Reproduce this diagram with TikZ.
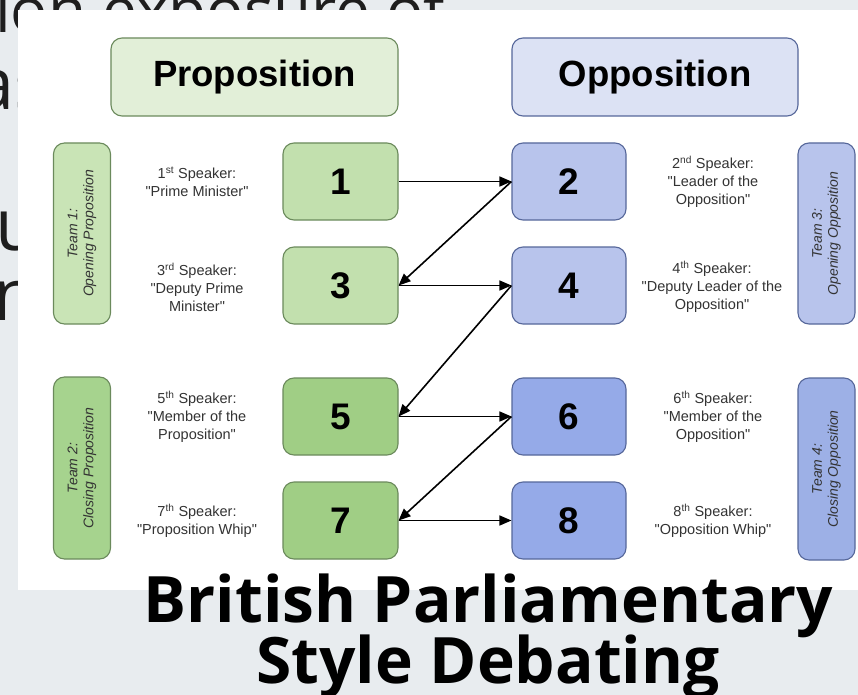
\documentclass[tikz,border=0pt]{standalone}
\usepackage{fontspec}
\setmainfont{Liberation Sans}[Ligatures=TeXOff]
\newfontfamily\osans{Open Sans}
\usetikzlibrary{arrows.meta}
\definecolor{bg}{HTML}{E8ECEF}
\definecolor{hdrG}{HTML}{E2EFD8}
\definecolor{hdrB}{HTML}{DCE2F4}
\definecolor{numGa}{HTML}{C2E0AE}
\definecolor{numGb}{HTML}{A0CE85}
\definecolor{numBa}{HTML}{B8C4EC}
\definecolor{numBb}{HTML}{95AAE8}
\definecolor{teamGa}{HTML}{C9E4B6}
\definecolor{teamGb}{HTML}{A6D38E}
\definecolor{teamBa}{HTML}{B8C4EC}
\definecolor{teamBb}{HTML}{9DB0E6}
\definecolor{bordG}{HTML}{6B8A5C}
\definecolor{bordB}{HTML}{56679A}
\definecolor{txtgrey}{HTML}{333333}
\definecolor{bgtext}{HTML}{1E1E1E}
\tikzset{
  rbox/.style={rounded corners=11bp, line width=1.1bp, inner sep=0pt},
  hdr/.style={rbox, minimum width=287bp, minimum height=78bp, font=\fontsize{36.5bp}{40bp}\selectfont\bfseries},
  numbox/.style={rbox, minimum width=115bp, minimum height=77bp, font=\fontsize{37bp}{40bp}\selectfont\bfseries},
  teambox/.style={rbox, minimum width=57bp, minimum height=181bp},
  teamtxt/.style={rotate=90, align=center, text=txtgrey, font=\fontsize{14bp}{16bp}\selectfont\itshape},
  spk/.style={align=center, text=txtgrey, font=\fontsize{14.5bp}{18bp}\selectfont},
  arr/.style={line width=1.6bp, -{Triangle[length=12bp,width=10bp]}},
  bgtxt/.style={anchor=base west, inner sep=0pt, text=bgtext, font=\osans\fontsize{72bp}{76bp}\selectfont},
  ttl/.style={anchor=base, inner sep=0pt, font=\osans\bfseries\fontsize{64bp}{70bp}\selectfont}
}
\begin{document}
\begin{tikzpicture}[x=1bp,y=-1bp]
\useasboundingbox (0,0) rectangle (858,695);
\clip (0,0) rectangle (858,695);
\fill[bg] (0,0) rectangle (858,695);
% background slide text (mostly hidden)
\node[bgtxt, font=\osans\fontsize{62bp}{70bp}\selectfont] (bt1) at (-5,33) {ion exposure of};
\node[bgtxt] (bt2) at (-26,110) {as};
\node[bgtxt] (bt4) at (-5,250) {u};
\node[bgtxt] (bt5) at (-7,320) {n};
% white panel
\fill[white] (18,10) rectangle (858,590);
% headers
\node[hdr, fill=hdrG, draw=bordG] (hp) at (254.5,77) {Proposition};
\node[hdr, fill=hdrB, draw=bordB, minimum width=286bp] (ho) at (655,77) {Opposition};
% team boxes
\node[teambox, fill=teamGa, draw=bordG] (t1) at (82,233.5) {};
\node[teamtxt] at (t1) {Team 1:\\Opening Proposition};
\node[teambox, fill=teamGb, draw=bordG, minimum height=182bp] (t2) at (82,468) {};
\node[teamtxt] at (t2) {Team 2:\\Closing Proposition};
\node[teambox, fill=teamBa, draw=bordB] (t3) at (826.5,233.5) {};
\node[teamtxt] at (t3) {Team 3:\\Opening Opposition};
\node[teambox, fill=teamBb, draw=bordB, minimum height=182bp] (t4) at (826.5,469) {};
\node[teamtxt] at (t4) {Team 4:\\Closing Opposition};
% number boxes
\node[numbox, fill=numGa, draw=bordG] (n1) at (340.5,181.5) {1};
\node[numbox, fill=numGa, draw=bordG] (n3) at (340.5,285.5) {3};
\node[numbox, fill=numGb, draw=bordG] (n5) at (340.5,416.5) {5};
\node[numbox, fill=numGb, draw=bordG] (n7) at (340.5,520.5) {7};
\node[numbox, fill=numBa, draw=bordB, minimum width=114bp] (n2) at (569,181.5) {2};
\node[numbox, fill=numBa, draw=bordB, minimum width=114bp] (n4) at (569,285.5) {4};
\node[numbox, fill=numBb, draw=bordB, minimum width=114bp] (n6) at (569,416.5) {6};
\node[numbox, fill=numBb, draw=bordB, minimum width=114bp] (n8) at (569,520.5) {8};
% speaker labels
\node[spk] (s1) at (197,182) {1\textsuperscript{st} Speaker:\\"Prime Minister"};
\node[spk] (s3) at (197,287) {3\textsuperscript{rd} Speaker:\\"Deputy Prime\\Minister"};
\node[spk] (s5) at (197,417) {5\textsuperscript{th} Speaker:\\"Member of the\\Proposition"};
\node[spk] (s7) at (197,521) {7\textsuperscript{th} Speaker:\\"Proposition Whip"};
\node[spk] (s2) at (713,182) {2\textsuperscript{nd} Speaker:\\"Leader of the\\Opposition"};
\node[spk] (s4) at (712,287) {4\textsuperscript{th} Speaker:\\"Deputy Leader of the\\Opposition"};
\node[spk] (s6) at (713,417) {6\textsuperscript{th} Speaker:\\"Member of the\\Opposition"};
\node[spk] (s8) at (713,521) {8\textsuperscript{th} Speaker:\\"Opposition Whip"};
% arrows
\draw[arr] (n1.east) -- (n2.west);
\draw[arr] (n2.west) -- (n3.east);
\draw[arr] (n3.east) -- (n4.west);
\draw[arr] (n4.west) -- (n5.east);
\draw[arr] (n5.east) -- (n6.west);
\draw[arr] (n6.west) -- (n7.east);
\draw[arr] (n7.east) -- (n8.west);
% title
\node[ttl] (ti1) at (488.5,622) {British Parliamentary};
\node[ttl] (ti2) at (488,683) {Style Debating};
\end{tikzpicture}
\end{document}
